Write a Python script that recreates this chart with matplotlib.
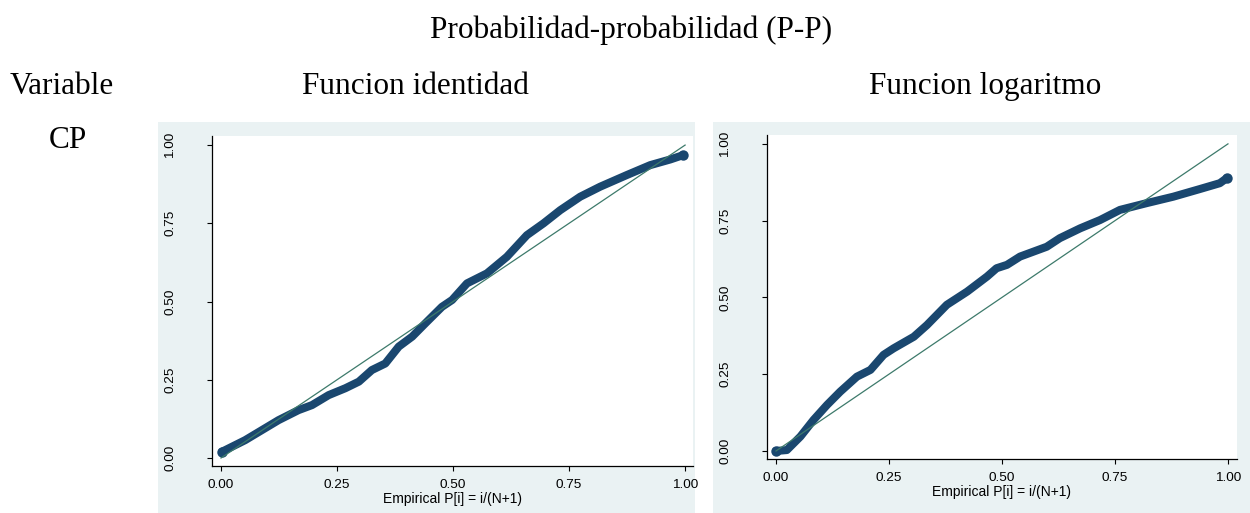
import matplotlib.pyplot as plt
from matplotlib.patches import Rectangle

# P-P curve: identity transform
ident_x = [0.002, 0.052, 0.124, 0.167, 0.196, 0.232, 0.268, 0.297, 0.325,
           0.354, 0.383, 0.412, 0.440, 0.476, 0.498, 0.530, 0.573, 0.616,
           0.659, 0.695, 0.731, 0.774, 0.817, 0.874, 0.925, 0.968, 0.996]
ident_y = [0.020, 0.057, 0.121, 0.153, 0.169, 0.201, 0.223, 0.244, 0.281,
           0.302, 0.356, 0.388, 0.430, 0.483, 0.505, 0.558, 0.590, 0.643,
           0.712, 0.750, 0.792, 0.835, 0.867, 0.904, 0.936, 0.954, 0.968]

# P-P curve: log transform
log_x = [0.000, 0.024, 0.054, 0.083, 0.113, 0.142, 0.179, 0.209, 0.238,
         0.260, 0.305, 0.334, 0.378, 0.423, 0.467, 0.488, 0.511, 0.540,
         0.599, 0.628, 0.673, 0.717, 0.761, 0.820, 0.879, 0.938, 0.982, 0.997]
log_y = [0.000, 0.003, 0.047, 0.101, 0.150, 0.193, 0.242, 0.264, 0.313,
         0.334, 0.372, 0.410, 0.476, 0.519, 0.568, 0.595, 0.606, 0.633,
         0.665, 0.693, 0.725, 0.752, 0.785, 0.807, 0.828, 0.853, 0.872, 0.888]

diag = [0.0, 1.0]
ticks = [0.0, 0.25, 0.5, 0.75, 1.0]
tick_labels = ["0.00", "0.25", "0.50", "0.75", "1.00"]

navy = "#1a476f"
green = "#3d7a6b"
bg = "#eaf2f3"
serif = "Liberation Serif"
sans = "Liberation Sans"

fig = plt.figure(figsize=(12.5, 5.13), dpi=100)

# graph regions (light background boxes), kept behind the axes
for x0 in (0.1264, 0.5704):
    r = Rectangle((x0, 0.0), 0.4296, 0.7622, transform=fig.transFigure,
                  facecolor=bg, edgecolor="none", zorder=-5)
    fig.patches.append(r)

fig.text(0.505, 0.9415, "Probabilidad-probabilidad (P-P)", ha="center",
         va="center", family=serif, fontsize=22.5)
fig.text(0.008, 0.832, "Variable", ha="left", va="center", family=serif,
         fontsize=22.5)
fig.text(0.332, 0.832, "Funcion identidad", ha="center", va="center",
         family=serif, fontsize=22.5)
fig.text(0.788, 0.832, "Funcion logaritmo", ha="center", va="center",
         family=serif, fontsize=22.5)
fig.text(0.0545, 0.727, "CP", ha="center", va="center", family=serif,
         fontsize=22.5)

panels = [
    ([0.1696, 0.0916, 0.3848, 0.6433], ident_x, ident_y,
     (-0.0194, 1.017), (-0.0256, 1.029)),
    ([0.6136, 0.1053, 0.3760, 0.6316], log_x, log_y,
     (-0.0199, 1.020), (-0.0261, 1.029)),
]

for pos, xs, ys, xl, yl in panels:
    ax = fig.add_axes(pos)
    ax.set_zorder(1)
    ax.set_facecolor("white")
    ax.plot(xs, ys, color=navy, lw=5.8, marker="o", ms=7.5, mew=0,
            markevery=[0, len(xs) - 1],
            solid_capstyle="round", solid_joinstyle="round", zorder=2)
    ax.plot(diag, diag, color=green, lw=0.9, zorder=3)
    ax.set_xlim(*xl)
    ax.set_ylim(*yl)
    ax.set_xticks(ticks)
    ax.set_xticklabels(tick_labels, family=sans, fontsize=9.7)
    ax.set_yticks(ticks)
    ax.set_yticklabels(tick_labels, family=sans, fontsize=9.7, rotation=90,
                       va="center")
    ax.tick_params(axis="x", length=3.6, width=0.8, pad=5.5)
    ax.tick_params(axis="y", length=3.6, width=0.8, pad=22)
    ax.spines["top"].set_visible(False)
    ax.spines["right"].set_visible(False)
    ax.spines["left"].set_linewidth(0.9)
    ax.spines["bottom"].set_linewidth(0.9)
    ax.set_xlabel("Empirical P[i] = i/(N+1)", family=sans, fontsize=10,
                  labelpad=1)

fig.savefig("out.png", dpi=100)
